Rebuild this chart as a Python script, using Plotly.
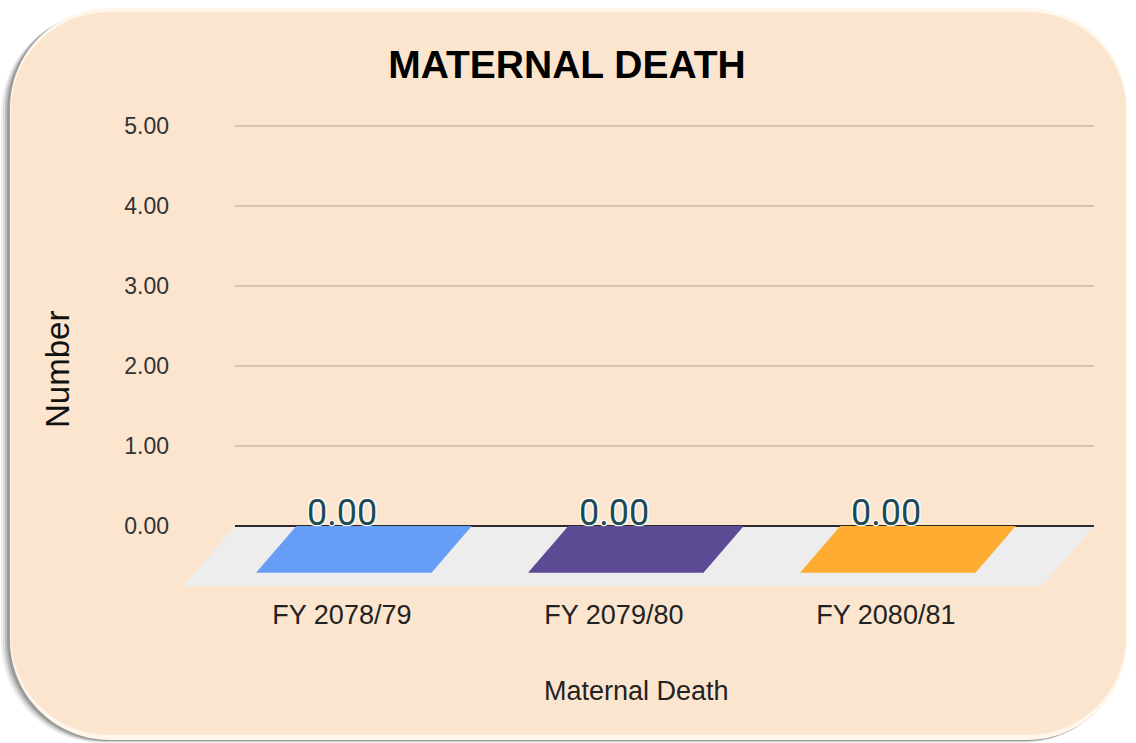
import numpy as np
import plotly.graph_objects as go

# ---- data -------------------------------------------------------------
categories = ["FY 2078/79", "FY 2079/80", "FY 2080/81"]
maternal_deaths = [0, 0, 0]
bar_colors = ["#669DF6", "#5C4A94", "#FFAC33"]
y_tick_values = [0, 1, 2, 3, 4, 5]

chart_title = "MATERNAL DEATH"
x_title = "Maternal Death"
y_title = "Number"

# ---- page / layout geometry ------------------------------------------
W, H = 1136, 743
FONT = "Liberation Sans, Arial, sans-serif"
BG = "#FCE5CE"

# oblique 3D look: how one unit of depth projects onto the axes (data units)
DEPTH_DX = -0.19
DEPTH_DY = -0.75
BAR_DEPTH = 0.78      # fraction of floor depth the bars occupy
BAR_WIDTH = 0.645
BAR_SHIFT = 0.155     # back edge of a bar sits right of its category
GRID_X = (-0.393, 2.765)

X_RANGE = [-0.632, 2.824]
Y_RANGE = [-0.875, 5.2]
X_DOMAIN = [170 / W, 1110 / W]
Y_DOMAIN = [(H - 596) / H, (H - 110) / H]


def px(x):
    return x / W


def py(y):
    return 1 - y / H


def rounded_rect(x0, y0, x1, y1, r, n=24):
    """Closed SVG path (paper coords) for a rounded rectangle given in pixels."""
    pts = []
    corners = [
        (x1 - r, y0 + r, -90, 0),
        (x1 - r, y1 - r, 0, 90),
        (x0 + r, y1 - r, 90, 180),
        (x0 + r, y0 + r, 180, 270),
    ]
    for cx, cy, a0, a1 in corners:
        for a in np.linspace(np.radians(a0), np.radians(a1), n):
            pts.append((cx + r * np.cos(a), cy + r * np.sin(a)))
    d = "M " + " L ".join(f"{px(x):.5f},{py(y):.5f}" for x, y in pts) + " Z"
    return d


shapes = []

# soft drop shadow (left / bottom) behind the card
for off, alpha in [(9, 0.06), (7, 0.09), (5, 0.13), (3, 0.18)]:
    shapes.append(dict(
        type="path", xref="paper", yref="paper", layer="below",
        path=rounded_rect(10 - off, 8 + off * 0.6, 1127 - off * 0.4, 740 + off * 0.3, 100),
        fillcolor=f"rgba(0,0,0,{alpha})", line=dict(width=0),
    ))
# light bevel, then the card itself
shapes.append(dict(
    type="path", xref="paper", yref="paper", layer="below",
    path=rounded_rect(10, 8, 1127, 740, 100),
    fillcolor="#FFF6EC", line=dict(width=0),
))
shapes.append(dict(
    type="path", xref="paper", yref="paper", layer="below",
    path=rounded_rect(11, 12, 1126, 735, 98),
    fillcolor=BG, line=dict(width=0),
))

# floor of the 3D plot
fl, fr = GRID_X
floor = [(fl, 0), (fr, 0), (fr + DEPTH_DX, DEPTH_DY), (fl + DEPTH_DX, DEPTH_DY)]
shapes.append(dict(
    type="path", xref="x", yref="y", layer="below",
    path="M " + " L ".join(f"{x},{y}" for x, y in floor) + " Z",
    fillcolor="#EDEDED", line=dict(width=0),
))

# horizontal gridlines on the back wall
for v in y_tick_values:
    shapes.append(dict(
        type="line", xref="x", yref="y", layer="below",
        x0=fl, x1=fr, y0=v, y1=v,
        line=dict(color="#2B2B2B" if v == 0 else "#C9B9A9",
                  width=1.8 if v == 0 else 1.5),
    ))

fig = go.Figure()

# 3D bars: top face at the value, front/side faces when the value is above zero
fdx, fdy = BAR_DEPTH * DEPTH_DX, BAR_DEPTH * DEPTH_DY
for i, (cat, val, col) in enumerate(zip(categories, maternal_deaths, bar_colors)):
    bl = i + BAR_SHIFT - BAR_WIDTH / 2
    br = i + BAR_SHIFT + BAR_WIDTH / 2
    faces = []
    if val > 0:
        faces.append(([bl + fdx, br + fdx, br + fdx, bl + fdx],
                      [fdy, fdy, val + fdy, val + fdy], 0.85))
        faces.append(([br + fdx, br, br, br + fdx],
                      [fdy, 0, val, val + fdy], 0.7))
    faces.append(([bl, br, br + fdx, bl + fdx],
                  [val, val, val + fdy, val + fdy], 1.0))
    for fx, fy, op in faces:
        fig.add_trace(go.Scatter(
            x=fx + [fx[0]], y=fy + [fy[0]], fill="toself", mode="lines",
            fillcolor=col, line=dict(width=0, color=col), opacity=op,
            name=cat, showlegend=False, hoverinfo="skip",
        ))

# value labels, sitting just above each bar's value
halo = "1px 1px 1px #fff, -1px -1px 1px #fff, 1px -1px 1px #fff, -1px 1px 1px #fff"
annotations = [
    dict(text=f"{v:.2f}", x=i, y=v, xref="x", yref="y", showarrow=False,
         xanchor="center", yanchor="middle", yshift=13,
         font=dict(family="Roboto, sans-serif", size=36, color="#1D4A55", shadow=halo))
    for i, v in enumerate(maternal_deaths)
]

annotations += [
    dict(text=y_title, x=px(57), y=py(370), xref="paper", yref="paper",
         textangle=-90, showarrow=False, xanchor="center", yanchor="middle",
         font=dict(family=FONT, size=33, color="#111")),
    dict(text=x_title, x=px(636), y=py(691), xref="paper", yref="paper",
         showarrow=False, xanchor="center", yanchor="middle",
         font=dict(family=FONT, size=27, color="#222")),
]

fig.update_layout(
    width=W, height=H,
    margin=dict(l=0, r=0, t=0, b=0),
    paper_bgcolor="white", plot_bgcolor="rgba(0,0,0,0)",
    title=dict(text=f"<b>{chart_title}</b>", x=px(567), y=py(64),
               xanchor="center", yanchor="middle", xref="paper", yref="paper",
               font=dict(family=FONT, size=39, color="#000")),
    xaxis=dict(domain=X_DOMAIN, range=X_RANGE, showgrid=False, zeroline=False,
               showline=False, tickvals=list(range(len(categories))),
               ticktext=categories, ticks="",
               tickfont=dict(family=FONT, size=27, color="#222"), fixedrange=True),
    yaxis=dict(domain=Y_DOMAIN, range=Y_RANGE, showgrid=False, zeroline=False,
               showline=False, tickvals=y_tick_values, tickformat=".2f", ticks="",
               tickfont=dict(family=FONT, size=23, color="#333"), fixedrange=True),
    shapes=shapes,
    annotations=annotations,
    showlegend=False,
)

fig.write_html("out.html")
